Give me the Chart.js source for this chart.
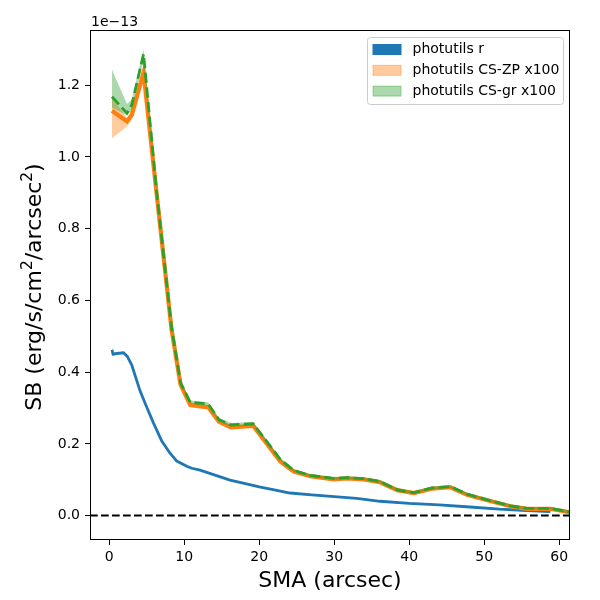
<!DOCTYPE html>
<html>
<head>
<meta charset="utf-8">
<script src="https://cdn.jsdelivr.net/npm/chart.js@4.4.1/dist/chart.umd.min.js"></script>
<style>
  html, body { margin: 0; padding: 0; background: #fff; }
</style>
</head>
<body>
<canvas id="sbChart" width="600" height="600"></canvas>
<script>
// surface brightness profiles, all values in units of 1e-13
const seriesNames = ["photutils r", "photutils CS-ZP x100", "photutils CS-gr x100"];

// photutils r (band is very thin, given as +/- err)
const rX   = [0.36, 0.5, 1.0, 1.9, 2.4, 3.0, 4.1, 5.0, 5.9, 7.0, 8.1, 9.0, 10.4, 11.0, 12.1, 14.8, 16.1, 18.0, 20.0, 22.0, 24.1, 27.0, 30.0, 33.0, 36.1, 40.0, 44.0, 48.1, 52.0, 55.0, 58.8];
const rY   = [0.462, 0.450, 0.452, 0.454, 0.444, 0.420, 0.348, 0.302, 0.258, 0.208, 0.174, 0.152, 0.137, 0.132, 0.127, 0.108, 0.099, 0.090, 0.080, 0.072, 0.063, 0.058, 0.053, 0.048, 0.040, 0.034, 0.030, 0.024, 0.018, 0.015, 0.011];
const rErr = [0.008, 0.004, 0.003, 0.002, 0.002, 0.002, 0.002, 0.002, 0.002, 0.002, 0.002, 0.002, 0.002, 0.002, 0.002, 0.002, 0.002, 0.002, 0.002, 0.002, 0.002, 0.002, 0.002, 0.002, 0.002, 0.002, 0.002, 0.002, 0.002, 0.002, 0.002];

// CS profiles (x100), bands given as lower / upper edges
const csX  = [0.36, 2.36, 3.0, 4.57, 6.3, 8.3, 9.5, 10.8, 13.2, 14.6, 16.2, 19.2, 22.8, 24.6, 26.8, 29.9, 31.7, 33.9, 36.1, 38.4, 40.6, 43.0, 45.5, 47.7, 50.4, 53.5, 55.7, 58.8, 62.0];
const zpY  = [1.129, 1.099, 1.117, 1.235, 0.900, 0.520, 0.365, 0.308, 0.302, 0.262, 0.246, 0.250, 0.151, 0.123, 0.110, 0.101, 0.104, 0.101, 0.093, 0.071, 0.063, 0.075, 0.079, 0.058, 0.043, 0.026, 0.019, 0.019, 0.007];
const zpLo = [1.052, 1.085, 1.104, 1.222, 0.894, 0.515, 0.361, 0.304, 0.298, 0.258, 0.242, 0.246, 0.148, 0.120, 0.107, 0.098, 0.101, 0.098, 0.090, 0.068, 0.060, 0.072, 0.076, 0.055, 0.040, 0.023, 0.016, 0.016, 0.004];
const zpHi = [1.164, 1.109, 1.130, 1.248, 0.906, 0.525, 0.369, 0.312, 0.306, 0.266, 0.250, 0.254, 0.154, 0.126, 0.113, 0.104, 0.107, 0.104, 0.096, 0.074, 0.066, 0.078, 0.082, 0.061, 0.046, 0.029, 0.022, 0.022, 0.010];
const grY  = [1.168, 1.122, 1.145, 1.287, 0.905, 0.525, 0.371, 0.316, 0.311, 0.268, 0.253, 0.256, 0.157, 0.126, 0.112, 0.104, 0.106, 0.103, 0.095, 0.072, 0.064, 0.077, 0.081, 0.060, 0.044, 0.027, 0.020, 0.020, 0.008];
const grLo = [1.137, 1.116, 1.130, 1.272, 0.898, 0.519, 0.366, 0.311, 0.306, 0.263, 0.248, 0.251, 0.153, 0.122, 0.108, 0.100, 0.102, 0.099, 0.091, 0.068, 0.060, 0.073, 0.077, 0.056, 0.040, 0.023, 0.016, 0.016, 0.004];
const grHi = [1.243, 1.148, 1.160, 1.300, 0.912, 0.531, 0.376, 0.321, 0.316, 0.273, 0.258, 0.261, 0.161, 0.130, 0.116, 0.108, 0.110, 0.107, 0.099, 0.076, 0.068, 0.081, 0.085, 0.064, 0.048, 0.031, 0.024, 0.024, 0.012];

const xTicks = [0, 10, 20, 30, 40, 50, 60];
const yTicks = [0.0, 0.2, 0.4, 0.6, 0.8, 1.0, 1.2];
const xRange = [-2.57, 61.43];
const yRange = [-0.068, 1.354];
const offsetLabel = "1e\u221213";
const xTitle = "SMA (arcsec)";
// y title pieces: [text, isSuperscript]
const yTitle = [["SB (erg/s/cm", false], ["2", true], ["/arcsec", false], ["2", true], [")", false]];

const BLUE = "#1f77b4", ORANGE = "#ff7f0e", GREEN = "#2ca02c";
const legendColors = [
    { fill: BLUE, stroke: BLUE },
    { fill: "rgba(255,127,14,0.4)", stroke: "rgba(255,127,14,0.4)" },
    { fill: "rgba(44,160,44,0.4)", stroke: "rgba(44,160,44,0.4)" },
];

function pts(xs, ys) {
    return xs.map((x, i) => ({ x: x, y: ys[i] }));
}

function band(xs, lo, hi, color, order) {
    return [
        { data: pts(xs, lo), borderWidth: 0, pointRadius: 0, fill: false, order: order + 1, clip: 0 },
        { data: pts(xs, hi), borderWidth: 0, pointRadius: 0, fill: "-1", backgroundColor: color, order: order, clip: 0 },
    ];
}

function line(xs, ys, color, width, dash, order) {
    return { data: pts(xs, ys), borderColor: color, borderWidth: width, borderDash: dash, pointRadius: 0, fill: false, order: order, clip: 0 };
}

// spines, offset text, y title and legend box
const decorations = {
    id: "decorations",
    afterDraw(chart) {
        const ctx = chart.ctx;
        const a = chart.chartArea;
        ctx.save();
        ctx.strokeStyle = "#000";
        ctx.lineWidth = 1;
        ctx.strokeRect(a.left + 0.5, a.top + 0.5, a.right - a.left - 1, a.bottom - a.top - 1);

        ctx.fillStyle = "#000";
        ctx.font = "14px 'DejaVu Sans'";
        ctx.textAlign = "left";
        ctx.textBaseline = "alphabetic";
        ctx.fillText(offsetLabel, a.left + 1, a.top - 4);

        // y axis title with real superscripts
        ctx.save();
        const big = "22px 'DejaVu Sans'", small = "15.4px 'DejaVu Sans'";
        let total = 0;
        yTitle.forEach(([t, sup]) => { ctx.font = sup ? small : big; total += ctx.measureText(t).width; });
        ctx.translate(40.5, (a.top + a.bottom) / 2 + 2);
        ctx.rotate(-Math.PI / 2);
        let cx = -total / 2;
        yTitle.forEach(([t, sup]) => {
            ctx.font = sup ? small : big;
            ctx.fillText(t, cx, sup ? -9 : 0);
            cx += ctx.measureText(t).width;
        });
        ctx.restore();

        // legend
        ctx.font = "14px 'DejaVu Sans'";
        const w = 196, h = 67;
        const bx = a.right - 7 - w + 0.5, by = a.top + 7 + 0.5, r = 3;
        ctx.beginPath();
        ctx.moveTo(bx + r, by);
        ctx.lineTo(bx + w - r, by);
        ctx.arcTo(bx + w, by, bx + w, by + r, r);
        ctx.lineTo(bx + w, by + h - r);
        ctx.arcTo(bx + w, by + h, bx + w - r, by + h, r);
        ctx.lineTo(bx + r, by + h);
        ctx.arcTo(bx, by + h, bx, by + h - r, r);
        ctx.lineTo(bx, by + r);
        ctx.arcTo(bx, by, bx + r, by, r);
        ctx.closePath();
        ctx.fillStyle = "rgba(255,255,255,0.8)";
        ctx.fill();
        ctx.strokeStyle = "#cccccc";
        ctx.stroke();

        seriesNames.forEach((name, i) => {
            const cy = by + 12 + i * 20.8;
            ctx.fillStyle = legendColors[i].fill;
            ctx.fillRect(bx + 5.5, cy - 5, 28, 10);
            ctx.strokeStyle = legendColors[i].stroke;
            ctx.strokeRect(bx + 5.5, cy - 5, 28, 10);
            ctx.fillStyle = "#000";
            ctx.textBaseline = "middle";
            ctx.fillText(name, bx + 45, cy);
        });
        ctx.restore();
    }
};

Chart.defaults.font.family = "'DejaVu Sans', sans-serif";
Chart.defaults.color = "#000";

const rLo = rY.map((v, i) => v - rErr[i]);
const rHi = rY.map((v, i) => v + rErr[i]);

const datasets = [
    ...band(rX, rLo, rHi, "rgba(31,119,180,0.5)", 10),
    line(rX, rY, BLUE, 2.8, [], 9),
    ...band(csX, zpLo, zpHi, "rgba(255,127,14,0.4)", 7),
    line(csX, zpY, ORANGE, 4.2, [], 6),
    ...band(csX, grLo, grHi, "rgba(44,160,44,0.4)", 4),
    line(csX, grY, GREEN, 2.8, [10.3, 4.4], 3),
    line(xRange, [0, 0], "#000", 2, [7.7, 3.3], 1),
];

const ctx = document.getElementById("sbChart").getContext("2d");

const sbChart = new Chart(ctx, {
    type: "line",
    data: { datasets: datasets },
    options: {
        responsive: false,
        animation: false,
        layout: { padding: { top: 30, right: 30, left: 0, bottom: 0 } },
        plugins: { legend: { display: false }, tooltip: { enabled: false } },
        elements: { line: { tension: 0 } },
        scales: {
            x: {
                type: "linear",
                min: xRange[0],
                max: xRange[1],
                afterBuildTicks: s => { s.ticks = xTicks.map(v => ({ value: v })); },
                afterFit: s => { s.height = 60; },
                ticks: { font: { size: 14 }, padding: 4, callback: v => String(v) },
                grid: { drawOnChartArea: false, drawTicks: true, tickLength: 5, color: "#000" },
                border: { display: false },
                title: { display: true, text: xTitle, font: { size: 22 }, padding: { top: 0, bottom: 6 } },
            },
            y: {
                type: "linear",
                min: yRange[0],
                max: yRange[1],
                afterBuildTicks: s => { s.ticks = yTicks.map(v => ({ value: v })); },
                afterFit: s => { s.width = 90; },
                ticks: { font: { size: 14 }, padding: 5, callback: v => v.toFixed(1) },
                grid: { drawOnChartArea: false, drawTicks: true, tickLength: 5, color: "#000" },
                border: { display: false },
            },
        },
    },
    plugins: [decorations],
});
</script>
</body>
</html>
